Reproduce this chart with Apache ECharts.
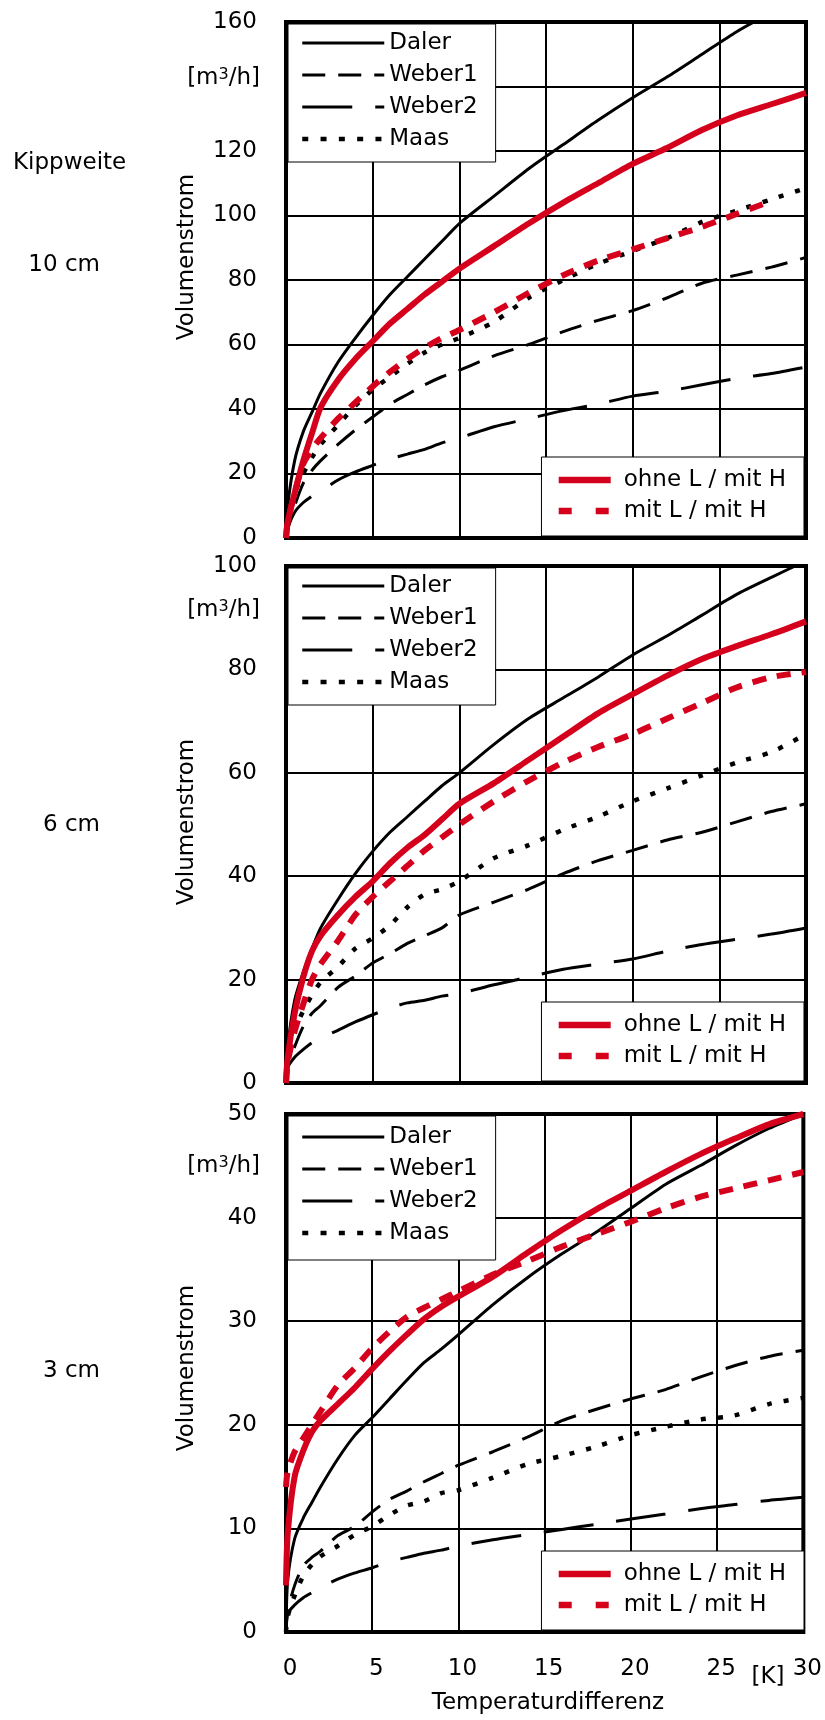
<!DOCTYPE html>
<html><head><meta charset="utf-8">
<script src="https://cdn.jsdelivr.net/npm/echarts/dist/echarts.min.js"></script>
<style>html,body{margin:0;padding:0;background:#fff}#c{width:825px;height:1720px}</style>
</head><body><div id="c"></div>
<script>
// ---------- DATA ----------
const tempK = [0, 0.1, 0.5, 1, 1.5, 2, 3, 4, 5, 6, 7, 8, 9, 10, 12, 14, 16, 18, 20, 22, 24, 26, 28, 30];
const xTickLabels = ['0', '5', '10', '15', '20', '25', '30'];
const blackNames = ['Daler', 'Weber1', 'Weber2', 'Maas'];
const redNames = ['ohne L / mit H', 'mit L / mit H'];
const panelLabels = ['10 cm', '6 cm', '3 cm'];
const yMaxes = [160, 100, 50];
const ySteps = [20, 20, 10];
const hiddenYLabels = [140, null, null];

// Kippweite 10 cm
const daler10 = [0, 10, 24, 33, 39, 45, 54.5, 62, 69, 75.5, 81, 86.5, 92, 97.5, 106, 114.5, 122, 129.5, 136.5, 143, 150, 157, 163, 169];
const weber1_10 = [0, 3, 10, 17, 21, 24, 29, 33.5, 37.5, 41.5, 44.5, 47.5, 50, 52, 56.5, 60, 64, 67.5, 70.5, 74.5, 79, 81.5, 84, 87];
const weber2_10 = [0, 3, 8, 11, 13, 14.5, 18, 20.5, 22.5, 24.5, 26, 27.5, 29.5, 31, 34.5, 37, 39.5, 41.5, 44, 45.5, 47.5, 49.5, 51, 53];
const maas10 = [0, 5, 14, 20, 25, 29, 35, 41, 46, 50, 54, 57.5, 60, 62, 67, 74.5, 80, 85, 89, 93, 98, 101.5, 105, 108.5];
const ohneL10 = [0, 5, 14, 24, 32.5, 40.5, 49, 55.5, 61, 66.5, 71, 75.5, 79.5, 83.5, 90.5, 97.5, 104, 110, 116, 121, 126.5, 131, 134.5, 138];
const mitL10 = [0, 5, 14, 23, 27.5, 31, 37, 42, 47, 51.5, 55.5, 59, 62, 64.5, 70, 76, 81.5, 86, 89.5, 93, 96.5, 100.5, 104.5, null];

// Kippweite 6 cm
const daler6 = [0, 7, 16, 21.5, 26, 30, 35.5, 40.5, 44.8, 48.5, 51.5, 54.5, 57.5, 60, 65.5, 70.5, 74.5, 78.5, 82.8, 86.5, 90.5, 94.5, 97.8, 101];
const weber1_6 = [0, 3, 7, 11, 13.5, 15, 18.5, 20.7, 23.2, 25, 27, 28.5, 30, 32.5, 35, 37.5, 40.5, 43, 45, 47, 48.5, 50.5, 52.5, 54];
const weber2_6 = [0, 3, 5, 6.5, 7.8, 8.7, 10.2, 11.8, 13.2, 14.5, 15.5, 16, 16.8, 17.3, 19, 20.5, 22, 23, 24, 25.5, 26.8, 27.8, 28.8, 30];
const maas6 = [0, 4, 10, 14, 17, 19.5, 22.5, 26, 28, 30.5, 34, 36.5, 37.5, 39, 43.5, 46, 49, 51.5, 54.5, 57, 59.5, 62, 64, 67.5];
const ohneL6 = [0, 5, 13.5, 20.5, 25.5, 28.5, 32.5, 36, 39, 42.5, 45.5, 48, 51, 54, 58, 62.5, 67, 71.5, 75.2, 78.8, 82, 84.5, 86.8, 89.3];
const mitL6 = [0, 4, 10, 15.3, 20, 23, 27.5, 32.5, 36, 39, 42, 45, 47.5, 50, 54.5, 58.5, 62, 65, 67.5, 70.5, 73.5, 76.5, 78.5, 79.5];

// Kippweite 3 cm
const daler3 = [0, 5, 9, 11, 12.5, 14, 16.7, 19, 20.7, 22.5, 24.3, 26, 27.3, 28.7, 31.6, 34.2, 36.5, 38.6, 40.9, 43.2, 45, 46.9, 48.6, 50];
const weber1_3 = [0, 2, 4.5, 6.4, 7.2, 7.8, 9.3, 10.2, 11.6, 12.8, 13.6, 14.5, 15.3, 16.1, 17.4, 18.8, 20.4, 21.5, 22.5, 23.4, 24.6, 25.7, 26.6, 27.2];
const weber2_3 = [0, 1.8, 2.6, 3.3, 3.8, 4.3, 5.1, 5.7, 6.2, 6.8, 7.2, 7.6, 7.9, 8.3, 8.9, 9.4, 9.9, 10.4, 10.9, 11.4, 11.9, 12.3, 12.7, 13];
const maas3 = [0, 1.5, 3.5, 5.4, 6.5, 7.3, 8.3, 9.4, 10.2, 11.3, 12.2, 12.6, 13.4, 13.7, 14.9, 16.2, 17, 17.9, 19, 19.8, 20.5, 20.9, 22, 22.6];
const ohneL3 = [4.5, 9.5, 15, 17.5, 19.3, 20.4, 22, 23.6, 25.4, 27.1, 28.7, 30.2, 31.4, 32.4, 34.3, 36.6, 38.8, 40.8, 42.6, 44.4, 46.1, 47.6, 49, 50];
const mitL3 = [14, 15.5, 17.4, 18.7, 20, 21.3, 23.8, 25.5, 27.4, 29, 30.4, 31.3, 32.1, 32.9, 34.5, 35.8, 37.2, 38.4, 39.6, 40.9, 42, 42.8, 43.6, 44.4];

const panelData = [
  {Daler: daler10, Weber1: weber1_10, Weber2: weber2_10, Maas: maas10, ohne: ohneL10, mit: mitL10},
  {Daler: daler6, Weber1: weber1_6, Weber2: weber2_6, Maas: maas6, ohne: ohneL6, mit: mitL6},
  {Daler: daler3, Weber1: weber1_3, Weber2: weber2_3, Maas: maas3, ohne: ohneL3, mit: mitL3}
];

// ---------- LAYOUT / STYLE ----------
const FONT = 'DejaVu Sans';
const RED = '#d5001c';
const LEFT = 286, WIDTH = 520;
const panels = [
  {top: 22, height: 516, tlPad: [6, 18, 10, 12], brPad: [10, 18, 12, 14], unitY: 78, volY: 257, labY: 265},
  {top: 566, height: 517, tlPad: [5, 18, 10, 12], brPad: [10, 18, 12, 14], unitY: 610, volY: 822, labY: 825},
  {top: 1114, height: 518, tlPad: [8, 18, 14, 12], brPad: [10, 18, 12, 14], unitY: 1166, volY: 1368, labY: 1371}
];
const lineStyles = {
  Weber2: {color: '#000', width: 3, type: [50, 23]},
  Weber1: {color: '#000', width: 3, type: [23, 13]},
  Maas: {color: '#000', width: 4.5, type: [5, 12]},
  Daler: {color: '#000', width: 3, type: 'solid'},
  mit: {color: RED, width: 6, type: [14, 11]},
  ohne: {color: RED, width: 6, type: 'solid'}
};
const legendLine = {
  Daler: {width: 3, type: 'solid'},
  Weber1: {width: 3, type: [23, 13]},
  Weber2: {width: 3, type: [50, 23]},
  Maas: {width: 4.5, type: [6, 12.3]},
  ohne: {width: 6.5, type: 'solid'},
  mit: {width: 6.5, type: [13, 24]}
};
const seriesLabel = {Daler: 'Daler', Weber1: 'Weber1', Weber2: 'Weber2', Maas: 'Maas', ohne: redNames[0], mit: redNames[1]};

function pairs(ys) {
  return tempK.map((x, i) => [x, ys[i]]).filter(p => p[1] !== null && p[1] !== undefined);
}
function legendItems(keys) {
  return keys.map(k => ({name: seriesLabel[k],
    lineStyle: {width: legendLine[k].width, type: legendLine[k].type, color: lineStyles[k].color}}));
}

const grid = [], xAxis = [], yAxis = [], series = [], legend = [], graphic = [];
const txt = {fontFamily: FONT, fontSize: 23, color: '#000'};

panels.forEach((p, i) => {
  grid.push({left: LEFT, top: p.top, width: WIDTH, height: p.height, show: true,
    borderColor: '#000', borderWidth: 4, backgroundColor: 'transparent'});
  const last = i === panels.length - 1;
  xAxis.push({type: 'value', gridIndex: i, min: 0, max: 30, interval: 5,
    axisLine: {show: false}, axisTick: {show: false},
    splitLine: {show: true, lineStyle: {color: '#000', width: 2}},
    axisLabel: {show: last, margin: 26, fontFamily: FONT, fontSize: 23, color: '#000', padding: [0, 0, 0, 8],
      formatter: v => xTickLabels[Math.round(v / 5)]}});
  const hide = hiddenYLabels[i];
  yAxis.push({type: 'value', gridIndex: i, min: 0, max: yMaxes[i], interval: ySteps[i],
    axisLine: {show: false}, axisTick: {show: false},
    splitLine: {show: true, lineStyle: {color: '#000', width: 2}},
    axisLabel: {margin: 29, fontFamily: FONT, fontSize: 23, color: '#000',
      formatter: v => (v === hide ? '' : String(v))}});
  ['Weber2', 'Weber1', 'Maas', 'Daler', 'mit', 'ohne'].forEach(k => {
    const ls = lineStyles[k];
    series.push({type: 'line', name: seriesLabel[k], xAxisIndex: i, yAxisIndex: i,
      data: pairs(panelData[i][k]), symbol: 'none', showSymbol: false,
      smooth: 0.25, clip: true,
      color: ls.color, lineStyle: {color: ls.color, width: ls.width, type: ls.type},
      emphasis: {disabled: true}, silent: true, z: 2});
  });
  const legendCommon = {orient: 'vertical', backgroundColor: '#fff', borderColor: '#000', borderWidth: 1,
    selectedMode: false, itemHeight: 14, itemStyle: {opacity: 0, borderWidth: 0}};
  legend.push(Object.assign({}, legendCommon, {left: 288, top: p.top + 2,
    data: legendItems(['Daler', 'Weber1', 'Weber2', 'Maas']),
    itemWidth: 82, itemGap: 6, padding: p.tlPad,
    textStyle: Object.assign({lineHeight: 26}, txt)}));
  legend.push(Object.assign({}, legendCommon, {right: 825 - (LEFT + WIDTH - 2), bottom: 1720 - (p.top + p.height - 2),
    data: legendItems(['ohne', 'mit']),
    itemWidth: 52, itemGap: 5, padding: p.brPad,
    textStyle: Object.assign({lineHeight: 26, padding: [0, 0, 0, 8]}, txt)}));

  graphic.push({type: 'text', x: 100, y: p.labY, silent: true,
    style: {text: panelLabels[i], font: '23px "' + FONT + '"', fill: '#000', align: 'right', verticalAlign: 'middle'}});
  graphic.push({type: 'text', x: 187, y: p.volY, rotation: Math.PI / 2, silent: true,
    style: {text: 'Volumenstrom', font: '23px "' + FONT + '"', fill: '#000', align: 'center', verticalAlign: 'middle'}});
  graphic.push({type: 'text', x: 260, y: p.unitY, silent: true,
    style: {text: '[m{s|3}/h]', font: '23px "' + FONT + '"', fill: '#000', align: 'right', verticalAlign: 'middle',
      rich: {s: {fontSize: 16, fontFamily: FONT, verticalAlign: 'top', lineHeight: 16, fill: '#000'}}}});
});

graphic.push({type: 'text', x: 13, y: 163, silent: true,
  style: {text: 'Kippweite', font: '23px "' + FONT + '"', fill: '#000', align: 'left', verticalAlign: 'middle'}});
graphic.push({type: 'text', x: 768, y: 1677, silent: true,
  style: {text: '[K]', font: '23px "' + FONT + '"', fill: '#000', align: 'center', verticalAlign: 'middle'}});
graphic.push({type: 'text', x: 548, y: 1703, silent: true,
  style: {text: 'Temperaturdifferenz', font: '23px "' + FONT + '"', fill: '#000', align: 'center', verticalAlign: 'middle'}});

const chart = echarts.init(document.getElementById('c'), null, {renderer: 'canvas'});
chart.setOption({animation: false, backgroundColor: '#fff', textStyle: {fontFamily: FONT},
  grid, xAxis, yAxis, series, legend, graphic});
</script></body></html>
